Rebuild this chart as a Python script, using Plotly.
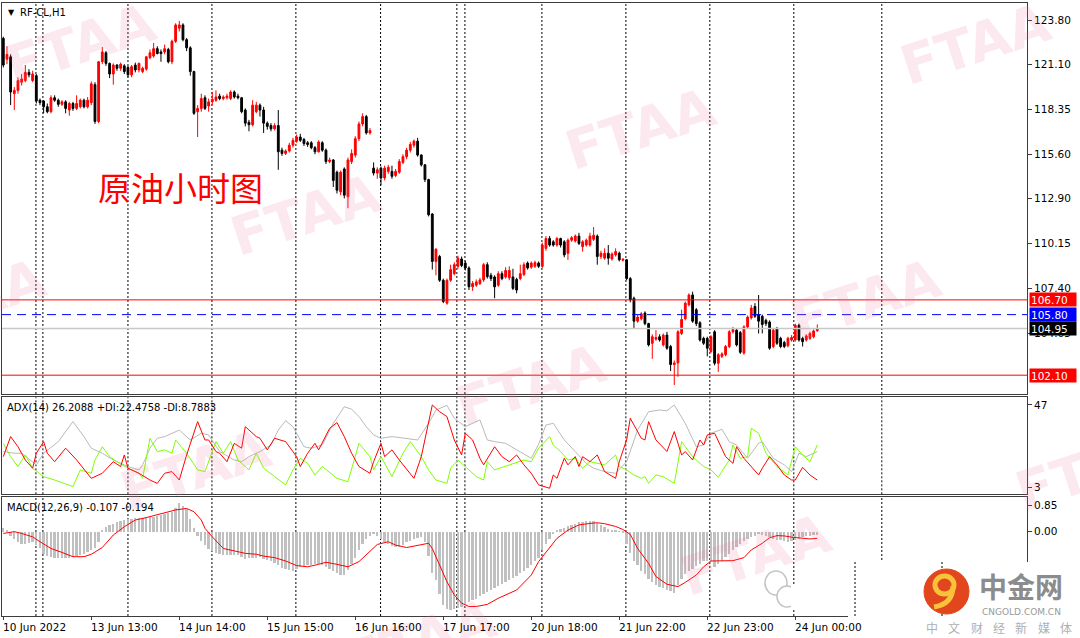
import plotly.graph_objects as go

# ---------------- data ----------------
open_ = [122.68,121.40,121.55,119.30,119.50,120.00,120.10,120.60,120.10,120.40,
         118.90,118.85,118.50,118.20,119.05,118.90,118.65,118.80,118.30,118.70,
         118.40,118.50,118.90,118.50,118.75,119.85,117.60,121.25,121.80,121.15,
         120.50,121.05,120.85,121.00,120.90,120.45,121.05,120.75,120.65,120.80,
         121.50,121.60,122.05,121.85,121.85,122.00,121.25,122.50,123.30,123.50,
         122.60,122.10,120.65,118.20,118.40,119.05,118.55,118.80,118.90,119.15,
         119.00,119.05,119.00,119.40,119.15,119.05,118.30,117.55,117.40,118.20,
         118.60,118.30,117.50,117.35,117.15,117.35,115.85,115.65,115.80,116.15,
         116.40,116.65,116.50,116.30,116.30,116.00,115.75,116.30,115.85,115.15,
         115.25,114.50,113.30,114.70,113.00,115.15,115.55,116.55,117.45,117.90,
         116.90,114.75,114.45,114.75,114.15,114.55,114.55,114.30,114.50,115.10,
         115.45,115.85,116.15,116.40,115.55,114.95,114.05,111.95,109.05,109.35,
         107.90,106.50,107.90,108.30,108.75,109.20,108.95,108.65,107.50,107.60,
         107.70,107.92,108.85,108.20,108.10,107.60,108.30,108.10,108.05,108.10,
         107.95,108.00,108.25,108.95,108.70,108.75,108.95,108.75,109.85,110.45,
         110.25,110.05,110.45,110.25,109.55,110.35,110.30,110.60,109.95,110.05,
         110.05,110.40,110.60,109.35,109.25,109.55,109.20,109.45,109.55,109.12,
         109.15,108.00,106.80,105.40,105.55,105.90,105.25,104.05,104.30,104.45,
         103.95,104.55,103.85,102.75,102.85,104.65,105.55,106.40,107.00,106.10,
         105.30,104.35,104.35,103.55,104.75,102.83,103.25,103.35,103.85,104.75,
         104.85,104.70,103.45,105.05,105.60,106.30,105.80,105.70,105.45,105.35,
         103.85,104.95,104.35,104.10,103.90,104.25,104.25,105.15,104.35,104.25,
         104.35,104.45,104.82]
high = [122.78,122.20,121.70,119.70,120.30,120.50,121.05,120.80,120.70,120.50,
        119.00,118.90,118.70,119.20,119.20,119.00,118.90,118.90,118.80,118.80,
        119.20,119.00,119.00,119.10,120.05,120.00,121.30,122.15,121.90,121.20,
        121.15,121.10,121.20,121.10,121.00,121.05,121.20,121.20,120.95,121.60,
        122.00,122.40,122.20,122.00,122.30,122.10,122.60,123.60,123.75,123.60,
        122.70,122.20,120.70,118.60,119.30,119.20,119.00,119.40,119.50,119.30,
        119.20,119.30,119.50,119.50,119.30,119.10,118.40,117.70,118.90,118.80,
        118.70,118.50,117.60,117.50,117.50,118.30,116.00,115.90,116.30,116.60,
        116.80,116.85,116.60,116.40,116.40,116.10,116.45,116.40,115.95,115.40,
        115.30,114.60,114.60,114.80,115.40,115.90,116.70,117.60,118.10,118.00,
        117.20,115.10,114.80,114.85,114.90,114.95,114.90,114.70,115.30,115.60,
        116.00,116.35,116.50,116.60,115.60,115.00,114.10,112.00,109.85,109.45,
        108.00,108.00,108.85,109.00,109.40,109.35,109.10,108.75,107.85,107.95,
        108.05,108.95,109.00,108.35,108.20,108.45,108.45,108.70,108.75,108.60,
        108.05,108.85,109.00,109.05,109.05,109.10,109.05,110.20,110.60,110.60,
        110.35,110.55,110.50,110.35,110.45,110.60,110.70,110.80,110.35,110.45,
        110.80,111.15,110.70,109.70,109.85,110.05,109.60,109.85,109.65,109.25,
        109.20,108.10,106.90,105.80,105.95,106.00,105.30,104.60,104.85,104.60,
        104.65,104.75,103.95,103.00,104.85,106.10,106.60,107.10,107.20,106.20,
        105.40,104.45,104.45,104.55,104.85,103.45,103.50,103.95,104.85,105.05,
        104.95,104.80,105.15,105.75,106.40,106.50,107.00,105.80,105.55,105.45,
        104.95,105.05,104.45,104.20,104.45,104.55,105.25,105.25,104.45,104.60,
        104.75,104.90,105.20]
low = [120.90,121.10,118.60,118.30,119.30,119.80,120.00,120.30,120.00,118.70,
       118.60,118.10,118.10,118.10,118.80,118.50,118.55,118.10,117.95,118.25,
       118.30,118.40,118.40,118.40,118.60,117.45,117.50,121.10,121.00,120.25,
       119.85,120.70,120.70,120.50,120.30,120.30,120.60,120.60,120.55,120.70,
       121.40,121.50,121.70,121.25,121.70,121.15,121.10,122.40,123.10,122.50,
       121.90,120.40,118.00,116.65,118.20,118.30,118.20,118.60,118.80,118.90,
       118.90,118.95,118.90,119.00,118.95,118.10,117.30,117.00,117.30,118.10,
       117.90,116.90,117.10,117.00,117.05,114.65,115.50,115.55,115.70,116.00,
       116.30,116.35,116.10,116.05,115.90,115.60,115.70,115.75,115.00,115.05,
       113.60,113.20,113.10,112.90,112.30,115.00,115.40,116.40,117.30,116.80,
       116.80,114.30,114.10,113.70,114.00,114.40,114.10,114.20,114.40,115.00,
       115.30,115.70,116.00,115.45,114.85,113.90,111.80,108.55,108.20,107.80,
       106.50,106.40,107.80,108.20,108.60,108.70,108.50,107.30,107.25,107.50,
       107.60,107.80,108.00,107.85,106.80,107.50,107.90,108.00,107.90,107.30,
       107.10,107.90,108.15,108.55,108.60,108.65,108.65,108.65,109.70,109.95,
       109.95,109.95,109.90,109.30,109.15,110.25,110.20,110.05,109.65,109.95,
       109.95,110.30,108.85,109.20,109.15,108.85,109.10,109.35,109.05,109.05,
       107.90,106.55,104.95,105.30,105.45,105.15,103.85,103.10,104.20,104.15,
       103.85,103.65,102.35,101.50,102.00,104.55,105.45,106.30,105.30,105.10,
       104.15,103.95,103.25,103.45,102.70,102.30,103.15,103.25,103.75,104.65,
       103.85,103.40,103.35,104.95,105.50,105.60,104.65,104.65,105.10,103.65,
       103.75,103.95,103.75,103.75,103.80,104.15,104.15,104.15,103.85,104.15,
       104.25,104.35,104.75]
close = [121.05,121.70,119.40,119.50,120.10,120.20,120.60,120.45,120.50,118.85,
         118.75,118.50,118.20,119.05,118.90,118.65,118.80,118.40,118.70,118.40,
         118.70,118.90,118.50,118.90,119.90,117.60,121.25,121.85,121.15,120.50,
         121.05,120.85,121.10,120.65,120.45,120.95,120.75,121.15,120.85,121.55,
         121.80,122.05,121.75,121.75,122.05,121.25,122.50,123.50,123.50,122.60,
         122.10,120.65,118.10,118.40,119.00,118.40,118.80,118.95,119.10,119.00,
         119.10,119.15,119.40,119.10,119.05,118.20,117.50,117.40,118.60,118.60,
         118.30,117.50,117.30,117.15,117.35,115.75,115.65,115.80,116.15,116.45,
         116.65,116.45,116.25,116.20,116.00,115.75,116.35,115.85,115.15,115.25,
         114.00,113.40,114.50,113.10,115.25,115.65,116.55,117.45,117.90,116.90,
         117.05,114.45,114.65,114.15,114.75,114.80,114.25,114.55,115.15,115.45,
         115.85,116.20,116.40,115.55,114.95,114.05,111.90,109.05,109.80,107.90,
         106.60,107.90,108.55,108.85,109.25,108.80,108.65,107.50,107.70,107.80,
         107.92,108.85,108.12,108.00,107.50,108.30,108.00,108.50,108.50,107.40,
         107.30,108.30,108.85,108.65,108.95,108.98,108.75,110.05,110.45,110.05,
         110.05,110.45,110.05,109.45,110.35,110.50,110.60,110.15,110.25,110.35,
         110.60,110.65,109.35,109.55,109.55,109.25,109.50,109.65,109.15,109.18,
         108.00,106.70,105.40,105.65,105.85,105.25,103.95,104.45,104.40,104.25,
         104.55,103.75,102.75,102.85,104.75,105.50,106.50,107.00,105.40,105.25,
         104.25,104.05,103.75,104.45,102.83,103.35,103.40,103.85,104.75,104.90,
         103.95,103.50,105.05,105.65,106.20,105.70,105.40,105.20,105.25,103.75,
         104.85,104.05,103.85,103.85,104.35,104.40,105.15,104.25,104.15,104.50,
         104.65,104.80,104.95]
bars = list(range(len(close)))

# ADX(14) panel: (bar, value) vertices
adx_bar = [0,3,5,8,9,11,15,19,22,24,27,30,34,37,38,40,42,44,48,51,54,56,59,63,65,
           67,70,73,75,77,79,82,84,87,90,93,95,97,99,101,103,106,110,113,116,118,121,
           123,126,130,132,134,137,140,144,146,148,150,153,156,159,161,164,167,170,
           173,176,179,181,183,186,189,191,193,196,198,200,203,206,207,210,213,215,
           217,219,222]
adx_val = [22.1,21.2,21.2,16.7,15.0,21.2,27.4,38.1,30.1,23.9,21.2,17.6,14.1,12.3,15.0,
           23.9,29.2,30.1,33.6,28.3,31.9,31.0,22.1,17.6,16.7,19.4,22.1,25.6,33.6,38.6,
           35.4,24.7,23.9,25.6,37.2,46.1,44.7,40.8,35.4,31.0,29.2,30.1,29.2,28.3,37.2,
           44.3,46.8,39.9,35.4,39.0,28.3,27.4,26.5,23.0,18.5,26.0,36.3,37.2,28.3,22.1,
           15.8,13.2,11.4,10.5,16.7,33.6,43.4,44.3,43.9,47.0,37.2,24.7,25.6,31.9,34.0,
           27.4,25.6,18.5,26.5,27.4,18.5,15.0,11.4,21.2,19.4,22.1]
pdi_bar = [0,2,4,6,8,11,14,19,21,24,25,27,29,31,34,37,38,40,42,44,46,47,50,53,55,
           58,60,62,64,67,69,71,74,77,79,81,83,85,87,91,94,97,100,101,103,106,109,111,
           114,116,118,121,122,124,127,129,131,132,134,138,142,144,146,149,150,152,154,
           156,158,160,164,167,168,170,172,174,175,176,178,180,183,185,188,191,193,195,
           198,199,201,203,204,206,208,211,214,216,218,220,222]
pdi_val = [26.5,19.4,14.1,20.3,13.2,8.7,6.9,3.4,12.3,10.5,17.6,24.7,19.4,16.7,13.2,
           10.5,7.8,29.2,22.1,23.0,21.2,28.3,21.2,12.3,11.4,27.4,21.2,27.4,17.6,12.3,
           21.2,13.2,8.7,4.3,12.3,18.5,15.8,9.6,14.1,7.8,6.0,26.5,19.4,12.3,19.4,8.7,
           21.2,27.4,19.4,12.3,6.9,5.1,13.2,17.6,12.3,8.7,6.9,16.7,12.3,15.0,17.6,16.7,
           23.9,30.1,25.6,22.1,17.6,18.5,13.2,16.7,15.0,20.3,14.1,12.3,9.6,7.8,8.7,5.1,
           9.6,8.7,5.1,27.4,19.4,14.1,12.3,8.4,17.6,25.6,18.5,19.4,34.5,31.9,21.2,14.1,
           9.6,24.7,20.3,16.7,25.6]
mdi_bar = [0,2,4,6,8,9,11,12,14,17,20,24,27,30,32,33,34,37,40,42,44,46,48,50,53,
           55,56,58,59,61,63,65,66,69,70,72,74,77,80,81,83,85,86,89,91,93,95,97,100,101,
           103,104,106,108,112,114,117,119,121,123,125,126,128,130,131,134,136,138,140,
           142,144,146,149,150,151,153,154,156,157,158,160,162,164,167,168,170,171,174,
           175,176,178,181,183,185,186,188,190,191,192,194,197,199,200,202,206,207,209,
           211,213,215,216,218,220,222]
mdi_val = [19.4,30.1,24.7,17.6,13.2,21.2,27.4,21.2,16.7,23.9,17.6,7.8,10.5,16.7,14.1,
           20.3,13.2,10.5,6.9,5.1,10.5,11.4,6.9,20.3,38.1,28.3,28.3,22.1,21.2,16.7,
           26.5,23.9,35.4,30.1,29.2,23.0,29.2,27.4,19.4,14.1,21.2,26.5,23.0,34.5,37.6,
           30.1,21.2,14.1,10.5,16.7,26.5,19.4,23.0,17.6,7.8,19.4,47.0,43.4,40.8,28.3,
           20.3,31.9,28.3,18.5,15.0,24.7,19.4,16.7,20.3,15.0,10.5,4.3,2.5,9.6,7.8,18.5,
           15.0,19.4,14.1,19.4,16.7,20.3,11.4,7.8,16.7,28.3,39.9,29.2,28.3,38.1,28.3,
           22.1,32.8,20.3,22.1,17.6,28.3,25.6,31.0,31.9,19.4,15.8,24.7,18.5,9.6,13.2,
           19.4,15.0,9.6,6.9,6.9,13.7,9.6,6.9]

# MACD(12,26,9) panel
macd_hist = [0.11,0.05,-0.13,-0.25,-0.35,-0.40,-0.40,-0.38,-0.35,-0.45,
             -0.55,-0.73,-0.80,-0.84,-0.86,-0.87,-0.87,-0.87,-0.86,-0.84,
             -0.80,-0.76,-0.72,-0.68,-0.62,-0.55,-0.35,0.05,0.15,0.20,
             0.26,0.31,0.35,0.39,0.40,0.41,0.43,0.44,0.45,0.46,
             0.47,0.48,0.50,0.54,0.58,0.60,0.63,0.78,0.94,0.85,
             0.74,0.40,0.10,-0.13,-0.30,-0.45,-0.57,-0.65,-0.70,-0.73,
             -0.76,-0.76,-0.76,-0.77,-0.78,-0.84,-0.89,-0.88,-0.87,-0.85,
             -0.84,-0.89,-0.93,-0.98,-1.04,-1.11,-1.18,-1.24,-1.26,-1.28,
             -1.22,-1.17,-1.14,-1.11,-1.08,-1.06,-1.06,-1.10,-1.17,-1.22,
             -1.28,-1.35,-1.42,-1.42,-1.25,-1.06,-0.85,-0.62,-0.42,-0.24,
             -0.15,-0.08,-0.15,-0.25,-0.35,-0.40,-0.46,-0.49,-0.51,-0.43,
             -0.35,-0.30,-0.24,-0.21,-0.19,-0.35,-0.80,-1.35,-1.60,-2.05,
             -2.40,-2.55,-2.58,-2.55,-2.50,-2.47,-2.40,-2.31,-2.25,-2.20,
             -2.10,-2.04,-1.98,-1.92,-1.85,-1.78,-1.71,-1.66,-1.60,-1.52,
             -1.44,-1.36,-1.28,-1.18,-1.08,-0.98,-0.85,-0.62,-0.42,-0.24,
             -0.08,0.03,0.09,0.13,0.17,0.22,0.26,0.30,0.32,0.33,
             0.33,0.33,0.27,0.20,0.14,0.09,0.05,0.03,0.01,-0.02,
             -0.40,-0.70,-0.95,-1.11,-1.28,-1.40,-1.55,-1.65,-1.74,-1.80,
             -1.85,-1.90,-1.95,-2.00,-1.75,-1.55,-1.40,-1.30,-1.22,-1.13,
             -1.05,-0.98,-0.98,-0.98,-1.17,-1.05,-0.95,-0.84,-0.72,-0.62,
             -0.50,-0.42,-0.32,-0.25,-0.19,-0.13,-0.08,-0.10,-0.13,-0.19,
             -0.24,-0.27,-0.29,-0.31,-0.33,-0.31,-0.29,-0.24,-0.19,-0.16,
             -0.14,-0.12,-0.11]
sig_bar = [0,3,5,8,10,13,16,19,22,24,27,30,33,36,39,41,44,47,50,52,54,55,57,60,63,
           66,69,71,74,77,80,83,86,88,91,94,97,100,102,105,107,110,113,116,117,119,121,
           123,125,127,129,132,135,140,144,146,148,151,154,157,160,162,164,167,169,171,
           173,176,178,181,184,186,189,191,193,196,199,202,204,207,209,211,213,215,218,
           220,222]
sig_val = [-0.08,-0.02,-0.08,-0.19,-0.35,-0.57,-0.70,-0.84,-0.84,-0.76,-0.54,-0.13,
           0.14,0.36,0.44,0.50,0.58,0.69,0.74,0.63,0.36,0.09,-0.19,-0.57,-0.65,-0.73,
           -0.76,-0.82,-0.87,-0.98,-1.13,-1.17,-1.09,-1.02,-1.09,-1.17,-1.00,-0.68,
           -0.44,-0.35,-0.46,-0.54,-0.46,-0.40,-0.57,-1.11,-1.66,-2.09,-2.36,-2.47,
           -2.47,-2.40,-2.20,-1.93,-1.44,-1.00,-0.68,-0.24,0.03,0.20,0.25,0.27,0.24,
           0.15,0.05,-0.11,-0.57,-1.06,-1.49,-1.74,-1.82,-1.68,-1.44,-1.17,-0.98,-0.97,
           -0.97,-0.87,-0.62,-0.40,-0.22,-0.15,-0.16,-0.20,-0.24,-0.26,-0.24]

price_ticks = [123.80, 121.10, 118.35, 115.60, 112.90, 110.15, 107.40, 104.65]
adx_ticks = [47, 3]
macd_ticks = [0.85, 0.00]
level_prices = [106.70, 105.80, 104.95, 102.10]
level_box_colors = ["#ff0000", "#0000ff", "#000000", "#ff0000"]
date_labels = ["10 Jun 2022", "13 Jun 13:00", "14 Jun 14:00", "15 Jun 15:00", "16 Jun 16:00",
               "17 Jun 17:00", "20 Jun 18:00", "21 Jun 22:00", "22 Jun 23:00", "24 Jun 00:00"]
date_label_bars = [0, 24, 48, 72, 96, 120, 144, 168, 192, 216]
separator_bars = [8.9, 10.8, 34.0, 56.9, 79.8, 102.9, 123.7, 125.9, 146.9, 169.8, 192.7, 215.6, 239.6]
header_main = "RF-CL,H1"
header_adx = "ADX(14) 26.2088 +DI:22.4758 -DI:8.7883"
header_macd = "MACD(12,26,9) -0.107 -0.194"
title_cn = "原油小时图"

# ---------------- layout helpers ----------------
W, H = 1080, 638
ML, MR, MT, MB = 2, 53, 3, 22
PW, PH = W - ML - MR, H - MT - MB


def px_x(x):
    return (x - ML) / PW


def px_y(y):
    return (H - MB - y) / PH


FONT = "DejaVu Sans"
FRAME = "#3c3c3c"
xr = [-0.355, 279.2]

fig = go.Figure()
fig.add_trace(go.Candlestick(
    x=bars, open=open_, high=high, low=low, close=close,
    increasing=dict(line=dict(color="#ff0000", width=1), fillcolor="#ff0000"),
    decreasing=dict(line=dict(color="#000000", width=1), fillcolor="#000000"),
    whiskerwidth=0, xaxis="x", yaxis="y", hoverinfo="skip"))

fig.add_trace(go.Scatter(x=adx_bar, y=adx_val, mode="lines", line=dict(color="#b9b9b9", width=1),
                         xaxis="x2", yaxis="y2", hoverinfo="skip"))
fig.add_trace(go.Scatter(x=pdi_bar, y=pdi_val, mode="lines", line=dict(color="#7fff00", width=1),
                         xaxis="x2", yaxis="y2", hoverinfo="skip"))
fig.add_trace(go.Scatter(x=mdi_bar, y=mdi_val, mode="lines", line=dict(color="#ff0000", width=1),
                         xaxis="x2", yaxis="y2", hoverinfo="skip"))

fig.add_trace(go.Bar(x=bars, y=macd_hist, marker=dict(color="#c0c0c0", line=dict(width=0)),
                     width=0.5, xaxis="x3", yaxis="y3", hoverinfo="skip"))
fig.add_trace(go.Scatter(x=sig_bar, y=sig_val, mode="lines", line=dict(color="#ff0000", width=1),
                         xaxis="x3", yaxis="y3", hoverinfo="skip"))

ax_common = dict(range=xr, showgrid=False, zeroline=False, showline=True, mirror=True,
                 linecolor=FRAME, linewidth=1, showticklabels=False, fixedrange=True)
y_common = dict(side="right", showgrid=False, zeroline=False, showline=True, mirror=True,
                linecolor=FRAME, linewidth=1, ticks="outside", ticklen=4, tickcolor=FRAME,
                tickfont=dict(family=FONT, size=10.5, color="#000"), fixedrange=True)

fig.update_layout(
    width=W, height=H, margin=dict(l=ML, r=MR, t=MT, b=MB),
    paper_bgcolor="white", plot_bgcolor="white", showlegend=False, hovermode=False,
    bargap=0,
    xaxis=dict(domain=[0, 1], anchor="y", rangeslider=dict(visible=False), ticks="", **ax_common),
    xaxis2=dict(domain=[0, 1], anchor="y2", matches="x", ticks="", **ax_common),
    xaxis3=dict(domain=[0, 1], anchor="y3", matches="x", ticks="outside", ticklen=3,
                tickcolor=FRAME, tickvals=date_label_bars, **ax_common),
    yaxis=dict(domain=[px_y(394), 1], anchor="x", range=[100.95, 124.84], tickvals=price_ticks,
               ticktext=[f"{v:.2f}" for v in price_ticks], **y_common),
    yaxis2=dict(domain=[px_y(494.3), px_y(397.3)], anchor="x2", range=[-0.73, 51.1],
                tickvals=adx_ticks, ticktext=[str(v) for v in adx_ticks], **y_common),
    yaxis3=dict(domain=[0, px_y(496.5)], anchor="x3", range=[-2.78, 1.13],
                tickvals=macd_ticks, ticktext=[f"{v:.2f}" for v in macd_ticks], **y_common),
)

shapes = []
# period separators in every panel
for yr in ["y domain", "y2 domain", "y3 domain"]:
    for b in separator_bars:
        shapes.append(dict(type="line", xref="x", yref=yr, x0=b, x1=b, y0=0, y1=1, layer="below",
                           line=dict(color="#000", width=1, dash="2px,2px")))
# horizontal levels
level_styles = [dict(color="#ff0000", width=1),
                dict(color="#0000ff", width=1, dash="9px,6px"),
                dict(color="#c8c8c8", width=1.5),
                dict(color="#ff0000", width=1)]
for p, st in zip(level_prices, level_styles):
    shapes.append(dict(type="line", xref="x domain", yref="y", x0=0, x1=1, y0=p, y1=p, line=st))

# logo overlay (bottom right)
shapes.append(dict(type="rect", xref="paper", yref="paper", x0=px_x(848), x1=px_x(1082),
                   y0=px_y(640), y1=px_y(562), fillcolor="white", line=dict(width=0), layer="above"))
for xp in [855, 942]:
    shapes.append(dict(type="line", xref="paper", yref="paper", x0=px_x(xp), x1=px_x(xp),
                       y0=px_y(616), y1=px_y(562), line=dict(color="#000", width=1, dash="2px,2px")))
shapes.append(dict(type="circle", xref="paper", yref="paper", x0=px_x(924), x1=px_x(969),
                   y0=px_y(614), y1=px_y(569), fillcolor="#e2461c", line=dict(color="#e2461c", width=1)))
shapes.append(dict(type="circle", xref="paper", yref="paper", x0=px_x(935), x1=px_x(954),
                   y0=px_y(594), y1=px_y(576), fillcolor="rgba(0,0,0,0)", line=dict(color="#f8c23a", width=5)))
shapes.append(dict(type="path", xref="paper", yref="paper",
                   path=f"M {px_x(953)},{px_y(586)} Q {px_x(953)},{px_y(604)} {px_x(934)},{px_y(607)}",
                   line=dict(color="#f8c23a", width=5)))
# wechat-like icon
shapes.append(dict(type="circle", xref="paper", yref="paper", x0=px_x(765), x1=px_x(787),
                   y0=px_y(595), y1=px_y(571), fillcolor="white", line=dict(color="#c4c4c4", width=1.5)))
shapes.append(dict(type="circle", xref="paper", yref="paper", x0=px_x(777), x1=px_x(797),
                   y0=px_y(607), y1=px_y(586), fillcolor="white", line=dict(color="#c4c4c4", width=1.5)))
shapes.append(dict(type="rect", xref="paper", yref="paper", x0=px_x(791), x1=px_x(800),
                   y0=px_y(610), y1=px_y(584), fillcolor="white", line=dict(width=0)))
fig.update_layout(shapes=shapes)

ann = []
# watermarks
for (wx, wy) in [(80, 45), (640, 130), (975, 45), (305, 215), (865, 300), (530, 385),
                 (-30, 300), (1090, 470), (195, 470), (755, 555), (420, 640)]:
    ann.append(dict(xref="paper", yref="paper", x=px_x(wx), y=px_y(wy), text="<b>FTAA</b>",
                    showarrow=False, textangle=-18, xanchor="center", yanchor="middle",
                    font=dict(family=FONT, size=54, color="rgba(238,120,160,0.16)")))
# headers
ann.append(dict(xref="paper", yref="paper", x=px_x(6), y=px_y(12), text="▼", showarrow=False,
                xanchor="left", yanchor="middle", font=dict(family=FONT, size=8, color="#000")))
ann.append(dict(xref="paper", yref="paper", x=px_x(18), y=px_y(12), text=header_main, showarrow=False,
                xanchor="left", yanchor="middle", font=dict(family=FONT, size=10, color="#000")))
ann.append(dict(xref="paper", yref="paper", x=px_x(5), y=px_y(407), text=header_adx, showarrow=False,
                xanchor="left", yanchor="middle", font=dict(family=FONT, size=10, color="#000")))
ann.append(dict(xref="paper", yref="paper", x=px_x(5), y=px_y(507.5), text=header_macd, showarrow=False,
                xanchor="left", yanchor="middle", font=dict(family=FONT, size=10, color="#000")))
ann.append(dict(xref="paper", yref="paper", x=px_x(180), y=px_y(187), text=title_cn, showarrow=False,
                xanchor="center", yanchor="middle",
                font=dict(family="Noto Sans CJK SC", size=33, color="#ff0000")))
# price boxes
for p, c in zip(level_prices, level_box_colors):
    ann.append(dict(xref="paper", yref="y", x=px_x(1029), y=p, text=f"{p:.2f}", showarrow=False,
                    xanchor="left", yanchor="middle", align="left", width=44, height=11,
                    bgcolor=c, borderpad=1, font=dict(family=FONT, size=10.5, color="white")))
# date labels
for b, t in zip(date_label_bars, date_labels):
    ann.append(dict(xref="x3", yref="paper", x=b, y=px_y(627), text=t, showarrow=False,
                    xanchor="left", yanchor="middle", xshift=-2,
                    font=dict(family=FONT, size=10.5, color="#000")))
# logo texts
ann.append(dict(xref="paper", yref="paper", x=px_x(1021), y=px_y(586), text="<b>中金网</b>",
                showarrow=False, xanchor="center", yanchor="middle",
                font=dict(family="Noto Sans CJK SC", size=28, color="#8c8c8c")))
ann.append(dict(xref="paper", yref="paper", x=px_x(1021), y=px_y(612), text="CNGOLD.COM.CN",
                showarrow=False, xanchor="center", yanchor="middle",
                font=dict(family=FONT, size=9, color="#9a9a9a")))
for k, ch in enumerate("中文财经新媒体"):
    ann.append(dict(xref="paper", yref="paper", x=px_x(932 + k * 22.3), y=px_y(627), text=ch,
                    showarrow=False, xanchor="center", yanchor="middle",
                    font=dict(family="Noto Sans CJK SC", size=12, color="#b0b0b0")))
fig.update_layout(annotations=ann)

fig.write_html("out.html", config={"displayModeBar": False},
               post_script="document.body.style.margin='0';document.body.style.overflow='hidden';")
